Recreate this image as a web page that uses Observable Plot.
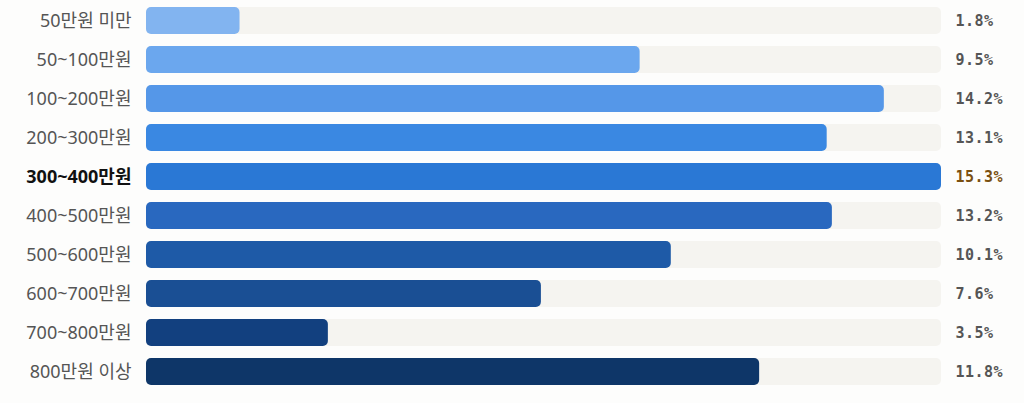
<!DOCTYPE html>
<html>
<head>
<meta charset="utf-8">
<script src="https://cdn.jsdelivr.net/npm/d3@7"></script>
<script src="https://cdn.jsdelivr.net/npm/@observablehq/plot@0.6"></script>
<style>
  html, body { margin: 0; padding: 0; background: #fdfdfc; }
  #chart svg { display: block; background: #fdfdfc; }
</style>
</head>
<body>
<div id="chart"></div>
<script>
const categories = ["50만원 미만", "50~100만원", "100~200만원", "200~300만원", "300~400만원", "400~500만원", "500~600만원", "600~700만원", "700~800만원", "800만원 이상"];
const values = [1.8, 9.5, 14.2, 13.1, 15.3, 13.2, 10.1, 7.6, 3.5, 11.8];
const colors = ["#82b4f0", "#6ba7ee", "#5597e8", "#3a88e2", "#2a78d5", "#2968bf", "#1e5aa7", "#1a4f94", "#12407f", "#0e3668"];

const data = categories.map((c, i) => ({category: c, value: values[i], color: colors[i]}));
const maxV = d3.max(values);
const isMax = d => d.value === maxV;
const labelFont = "'Noto Sans', 'Noto Sans CJK KR', sans-serif";

const chart = Plot.plot({
  width: 1024,
  height: 403,
  marginTop: 6,
  marginBottom: 17,
  marginLeft: 146,
  marginRight: 83,
  style: {background: "#fdfdfc"},
  x: {domain: [0, maxV], axis: null},
  y: {domain: categories, paddingInner: 0.31, paddingOuter: 0, axis: null},
  marks: [
    Plot.barX(data, {y: "category", x1: 0, x2: maxV, fill: "#f5f4f0", rx: 5}),
    Plot.barX(data, {y: "category", x1: 0, x2: "value", fill: d => d.color, rx: 5}),
    Plot.text(data.filter(d => !isMax(d)), {y: "category", x: 0, text: "category", textAnchor: "end", dx: -15, fill: "#555", fontSize: 18, fontFamily: labelFont}),
    Plot.text(data.filter(isMax), {y: "category", x: 0, text: "category", textAnchor: "end", dx: -15, fill: "#111", fontSize: 18, fontWeight: "bold", fontFamily: labelFont}),
    Plot.text(data, {y: "category", x: maxV, text: d => d.value.toFixed(1) + "%", textAnchor: "start", dx: 14, fill: d => isMax(d) ? "#7a5010" : "#555", fontSize: 15, fontWeight: "bold", fontFamily: "'DejaVu Sans Mono', monospace"})
  ]
});
document.getElementById("chart").append(chart);
// slight letter spacing for the monospace value labels
const textGroups = chart.querySelectorAll("g[aria-label='text']");
textGroups[textGroups.length - 1].setAttribute("letter-spacing", "0.5");
</script>
</body>
</html>
